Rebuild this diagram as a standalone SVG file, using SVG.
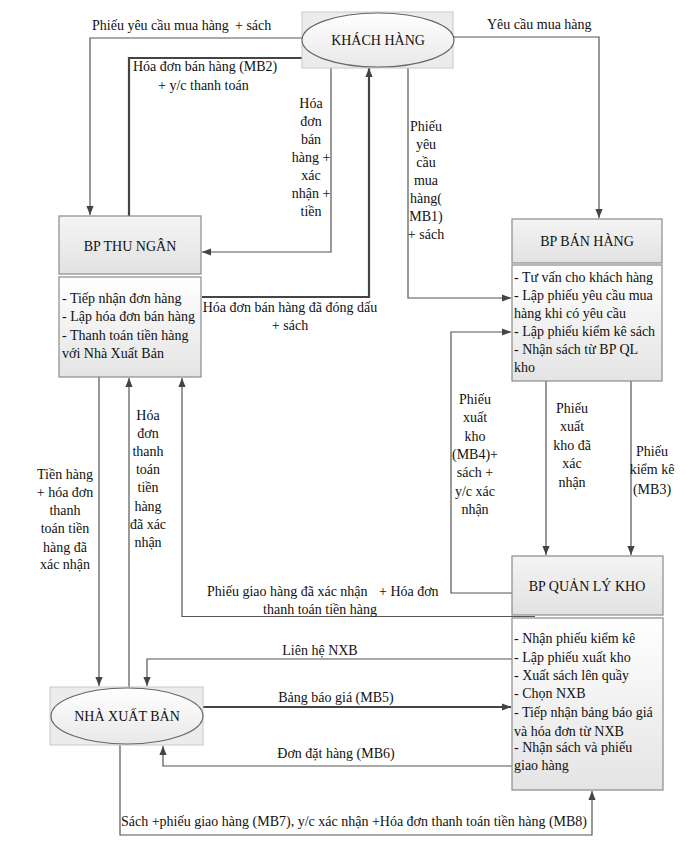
<svg xmlns="http://www.w3.org/2000/svg" width="686" height="865" viewBox="0 0 686 865">
<style>
text{font-family:"Liberation Serif","Times New Roman",serif;font-size:14px;fill:#111}
.c{text-anchor:middle}
.ln{fill:none;stroke:#555;stroke-width:1.2}
.th{stroke:#444;stroke-width:2.2}
.box{stroke:#8a8a8a;stroke-width:1.2;fill:url(#g)}
.hd{stroke:#8a8a8a;stroke-width:1.2;fill:url(#gh)}
.bg{fill:#ececec;stroke:#c8c8c8;stroke-width:1}
.el{fill:url(#ge);stroke:#666;stroke-width:1.2}
</style>
<defs>
<linearGradient id="g" x1="0" y1="0" x2="0" y2="1"><stop offset="0" stop-color="#ffffff"/><stop offset="1" stop-color="#e4e4e4"/></linearGradient>
<linearGradient id="gh" x1="0" y1="0" x2="0" y2="1"><stop offset="0" stop-color="#f4f4f4"/><stop offset="1" stop-color="#e2e2e2"/></linearGradient>
<linearGradient id="ge" x1="0" y1="0" x2="0" y2="1"><stop offset="0" stop-color="#ffffff"/><stop offset="1" stop-color="#e8e8e8"/></linearGradient>
<marker id="a" viewBox="0 0 10 10" refX="10" refY="5" markerWidth="9" markerHeight="9" markerUnits="userSpaceOnUse" orient="auto"><path d="M0,1 L10,5 L0,9 z" fill="#444"/></marker>
</defs>
<rect width="686" height="865" fill="#fff"/>
<g id="connectors">
<path class="ln" d="M303,38 H90 V215" marker-end="url(#a)"/>
<path class="ln th" d="M129,216 V58 H320" marker-end="url(#a)"/>
<path class="ln" d="M331,68 V252 H202" marker-end="url(#a)"/>
<path class="ln th" d="M202,297 H369 V68" marker-end="url(#a)"/>
<path class="ln" d="M408,67 V298 H511" marker-end="url(#a)"/>
<path class="ln" d="M454,37 H599 V218" marker-end="url(#a)"/>
<path class="ln" d="M512,593 H451 V332 H511" marker-end="url(#a)"/>
<path class="ln" d="M546,381 V555" marker-end="url(#a)"/>
<path class="ln" d="M631,381 V555" marker-end="url(#a)"/>
<path class="ln" d="M99,377 V686" marker-end="url(#a)"/>
<path class="ln" d="M129,687 V378" marker-end="url(#a)"/>
<path class="ln" d="M535,616.5 H182 V378" marker-end="url(#a)"/>
<path class="ln" d="M512,659 H147 V686" marker-end="url(#a)"/>
<path class="ln th" d="M200,707 H511" marker-end="url(#a)"/>
<path class="ln" d="M512,766 H163 V746" marker-end="url(#a)"/>
<path class="ln" d="M120,745 V835 H592 V791" marker-end="url(#a)"/>
</g>
<g id="labels">
<text x="92" y="30">Phiếu yêu cầu mua hàng</text>
<text x="235" y="30">+ sách</text>
<text x="133" y="71">Hóa đơn bán hàng  (MB2)</text>
<text x="158" y="90">+ y/c thanh toán</text>
<text class="c" x="311" y="108">Hóa</text>
<text class="c" x="311" y="126">đơn</text>
<text class="c" x="311" y="144">bán</text>
<text class="c" x="311" y="162">hàng +</text>
<text class="c" x="311" y="180">xác</text>
<text class="c" x="311" y="198">nhận +</text>
<text class="c" x="311" y="216">tiền</text>
<text x="487" y="29">Yêu cầu mua hàng</text>
<text class="c" x="426" y="131">Phiếu</text>
<text class="c" x="426" y="149">yêu</text>
<text class="c" x="426" y="167">cầu</text>
<text class="c" x="426" y="185">mua</text>
<text class="c" x="426" y="203">hàng(</text>
<text class="c" x="426" y="221">MB1)</text>
<text class="c" x="426" y="239">+ sách</text>
<text class="c" x="290" y="312">Hóa đơn bán hàng đã đóng dấu</text>
<text class="c" x="290" y="330">+ sách</text>
<text class="c" x="475" y="404">Phiếu</text>
<text class="c" x="475" y="422">xuất</text>
<text class="c" x="475" y="441">kho</text>
<text class="c" x="475" y="459">(MB4)+</text>
<text class="c" x="475" y="477">sách +</text>
<text class="c" x="475" y="496">y/c xác</text>
<text class="c" x="475" y="514">nhận</text>
<text class="c" x="572" y="413">Phiếu</text>
<text class="c" x="572" y="431">xuất</text>
<text class="c" x="572" y="450">kho đã</text>
<text class="c" x="572" y="468">xác</text>
<text class="c" x="572" y="487">nhận</text>
<text class="c" x="652" y="456">Phiếu</text>
<text class="c" x="652" y="474">kiểm kê</text>
<text class="c" x="652" y="494">(MB3)</text>
<text class="c" x="65" y="479">Tiền hàng</text>
<text class="c" x="65" y="497">+ hóa đơn</text>
<text class="c" x="65" y="515">thanh</text>
<text class="c" x="65" y="533">toán tiền</text>
<text class="c" x="65" y="552">hàng đã</text>
<text class="c" x="65" y="569">xác nhận</text>
<text class="c" x="148" y="420">Hóa</text>
<text class="c" x="148" y="438">đơn</text>
<text class="c" x="148" y="456">thanh</text>
<text class="c" x="148" y="474">toán</text>
<text class="c" x="148" y="492">tiền</text>
<text class="c" x="148" y="511">hàng</text>
<text class="c" x="148" y="529">đã xác</text>
<text class="c" x="148" y="547">nhận</text>
<text x="207" y="596">Phiếu giao hàng  đã xác nhận</text>
<text x="379" y="596">+ Hóa đơn</text>
<text class="c" x="320" y="614">thanh toán tiền hàng</text>
<text class="c" x="320" y="655">Liên hệ NXB</text>
<text class="c" x="336" y="702">Bảng báo giá (MB5)</text>
<text class="c" x="336" y="758">Đơn đặt hàng (MB6)</text>
<text x="121" y="826">Sách +phiếu giao hàng  (MB7), y/c xác nhận +Hóa đơn thanh toán tiền hàng  (MB8)</text>
</g>
<g id="khach-hang">
<rect class="bg" x="302" y="12" width="151" height="56"/>
<ellipse class="el" cx="378" cy="40" rx="76" ry="27"/>
<text class="c" x="378" y="45">KHÁCH HÀNG</text>
</g>
<g id="bp-thu-ngan">
<rect class="hd" x="59" y="216" width="142" height="58"/>
<text class="c" x="130" y="251">BP THU NGÂN</text>
<rect class="box" x="59" y="277" width="142" height="100"/>
<text x="62" y="303">- Tiếp nhận đơn hàng</text>
<text x="62" y="321">- Lập hóa đơn bán hàng</text>
<text x="62" y="340">- Thanh toán tiền hàng</text>
<text x="62" y="358">với Nhà Xuất Bản</text>
</g>
<g id="bp-ban-hang">
<rect class="hd" x="512" y="219" width="150" height="44"/>
<text class="c" x="587" y="246">BP BÁN HÀNG</text>
<rect class="box" x="512" y="265" width="150" height="116"/>
<text x="514" y="282">- Tư vấn cho khách hàng</text>
<text x="514" y="300">- Lập phiếu yêu cầu mua</text>
<text x="514" y="318">hàng khi có yêu cầu</text>
<text x="514" y="336">- Lập phiếu kiểm kê sách</text>
<text x="514" y="354">- Nhận sách từ BP QL</text>
<text x="514" y="372">kho</text>
</g>
<g id="bp-quan-ly-kho">
<rect class="hd" x="512" y="556" width="151" height="59"/>
<text class="c" x="587" y="591">BP QUẢN LÝ KHO</text>
<rect class="box" x="512" y="618" width="151" height="172"/>
<text x="514" y="643">- Nhận phiếu kiểm kê</text>
<text x="514" y="662">- Lập phiếu xuất kho</text>
<text x="514" y="680">- Xuất sách lên quầy</text>
<text x="514" y="698">- Chọn NXB</text>
<text x="514" y="717">- Tiếp nhận bảng báo giá</text>
<text x="514" y="736">và hóa đơn từ NXB</text>
<text x="514" y="752">- Nhận sách và phiếu</text>
<text x="514" y="770">giao hàng</text>
</g>
<g id="nha-xuat-ban">
<rect class="bg" x="50" y="687" width="153" height="58"/>
<ellipse class="el" cx="127" cy="716" rx="76" ry="28"/>
<text class="c" x="127" y="721">NHÀ XUẤT BẢN</text>
</g>
</svg>
